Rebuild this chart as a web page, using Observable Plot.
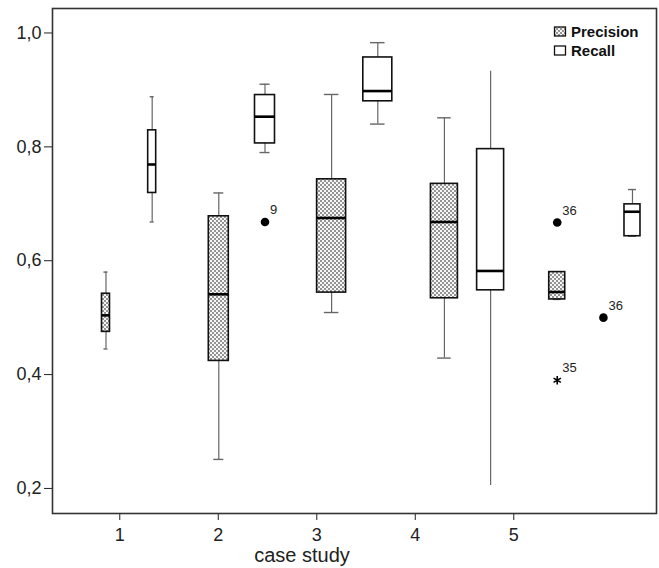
<!DOCTYPE html>
<html><head><meta charset="utf-8">
<script src="https://cdn.jsdelivr.net/npm/d3@7"></script>
<script src="https://cdn.jsdelivr.net/npm/@observablehq/plot@0.6"></script>
<style>
body{margin:0;background:#fff;}
#chart svg{display:block;}
</style></head><body><div id="chart"></div>
<script>
// ---- data ----
const caseStudies = [1, 2, 3, 4, 5];
const seriesNames = ["Precision", "Recall"];
const precisionLow    = [0.445, 0.251, 0.509, 0.429, 0.532];
const precisionQ1     = [0.475, 0.424, 0.544, 0.534, 0.532];
const precisionMedian = [0.504, 0.541, 0.675, 0.668, 0.545];
const precisionQ3     = [0.542, 0.678, 0.743, 0.735, 0.580];
const precisionHigh   = [0.580, 0.719, 0.892, 0.851, 0.580];
const recallLow    = [0.668, 0.790, 0.840, 0.205, 0.643];
const recallQ1     = [0.719, 0.806, 0.880, 0.548, 0.643];
const recallMedian = [0.769, 0.853, 0.898, 0.582, 0.686];
const recallQ3     = [0.829, 0.891, 0.957, 0.796, 0.699];
const recallHigh   = [0.888, 0.910, 0.983, 0.933, 0.725];
const outlierCase   = [2, 5, 5, 5];
const outlierSeries = ["Recall", "Precision", "Precision", "Recall"];
const outlierValue  = [0.668, 0.667, 0.390, 0.500];
const outlierLabel  = ["9", "36", "35", "36"];
const outlierKind   = ["outlier", "outlier", "extreme", "outlier"];
const yTicks = [0.2, 0.4, 0.6, 0.8, 1.0];
const xTitle = "case study";

// ---- layout ----
const W = 659, H = 568;
const M = {top: 8, right: 3, bottom: 55, left: 52};
const xDomain = [0.317, 6.449];
const yDomain = [0.156, 1.043];
const pxPerUnit = (W - M.left - M.right) / (xDomain[1] - xDomain[0]);
const firstBox = 0.860, groupStep = 1.1453, seriesGap = 0.469;
const boxWidthPx = [8, 20, 29, 27, 16];
const boxNudge = {"Recall-5": 0.295};
const noCaps = new Set(["Recall-4"]);
const font = "'Liberation Sans', Arial, Helvetica, sans-serif";

const statsBySeries = {
  Precision: [precisionLow, precisionQ1, precisionMedian, precisionQ3, precisionHigh],
  Recall: [recallLow, recallQ1, recallMedian, recallQ3, recallHigh]
};
const slot = (series, c) => firstBox + (c - 1) * groupStep + (series === "Recall" ? seriesGap : 0);

const boxes = [];
seriesNames.forEach(s => caseStudies.forEach((c, i) => {
  const [lo, q1, md, q3, hi] = statsBySeries[s];
  boxes.push({
    series: s, caseNo: c, key: s + "-" + c,
    low: lo[i], q1: q1[i], med: md[i], q3: q3[i], high: hi[i],
    cx: slot(s, c) + (boxNudge[s + "-" + c] || 0),
    hw: boxWidthPx[i] / 2 / pxPerUnit
  });
}));
const capped = boxes.filter(d => !noCaps.has(d.key));
const outliers = outlierCase.map((c, i) => ({
  caseNo: c, series: outlierSeries[i], value: outlierValue[i],
  label: outlierLabel[i], kind: outlierKind[i], cx: slot(outlierSeries[i], c)
}));

const whiskerColor = "#666";
const chart = Plot.plot({
  width: W, height: H,
  marginTop: M.top, marginRight: M.right, marginBottom: M.bottom, marginLeft: M.left,
  style: {fontFamily: font, fontSize: "18px", color: "#222", background: "#fff"},
  x: {domain: xDomain, ticks: caseStudies, tickFormat: d => String(d), tickSize: 7, tickPadding: 8, label: null},
  y: {domain: yDomain, ticks: yTicks, tickFormat: d => d.toFixed(1).replace(".", ","), tickSize: 8, tickPadding: 3, label: null},
  marks: [
    Plot.ruleX(boxes, {x: "cx", y1: "low", y2: "q1", stroke: whiskerColor, strokeWidth: 1.2}),
    Plot.ruleX(boxes, {x: "cx", y1: "q3", y2: "high", stroke: whiskerColor, strokeWidth: 1.2}),
    Plot.ruleY(capped, {y: "low", x1: d => d.cx - d.hw / 2, x2: d => d.cx + d.hw / 2, stroke: whiskerColor, strokeWidth: 1.4}),
    Plot.ruleY(capped, {y: "high", x1: d => d.cx - d.hw / 2, x2: d => d.cx + d.hw / 2, stroke: whiskerColor, strokeWidth: 1.4}),
    Plot.rect(boxes, {
      x1: d => d.cx - d.hw, x2: d => d.cx + d.hw, y1: "q1", y2: "q3",
      fill: "white", stroke: "#111", strokeWidth: 1.6,
      ariaLabel: d => d.series === "Precision" ? "precision-box" : "recall-box"
    }),
    Plot.ruleY(boxes, {y: "med", x1: d => d.cx - d.hw, x2: d => d.cx + d.hw, stroke: "#000", strokeWidth: 2.6}),
    Plot.dot(outliers.filter(d => d.kind === "outlier"), {x: "cx", y: "value", r: 4.3, fill: "#000", stroke: "none"}),
    Plot.dot(outliers.filter(d => d.kind === "extreme"), {x: "cx", y: "value", r: 4, symbol: "asterisk", stroke: "#000", strokeWidth: 1.6}),
    Plot.text(outliers, {x: "cx", y: "value", text: "label", dx: 5, dy: -12, textAnchor: "start", fontSize: 13, fill: "#222"}),
    Plot.frame({stroke: "#333", strokeWidth: 1.6})
  ]
});

// stipple pattern for Precision boxes
const svg = d3.select(chart);
const defs = svg.insert("defs", ":first-child");
const pat = defs.append("pattern").attr("id", "stipple").attr("patternUnits", "userSpaceOnUse")
  .attr("width", 4).attr("height", 4);
pat.append("rect").attr("width", 4).attr("height", 4).attr("fill", "#f6f6f6");
pat.append("circle").attr("cx", 1).attr("cy", 1).attr("r", 0.9).attr("fill", "#666");
pat.append("circle").attr("cx", 3).attr("cy", 3).attr("r", 0.9).attr("fill", "#666");
svg.selectAll('[aria-label="precision-box"]').attr("fill", "url(#stipple)");

// x axis title
svg.append("text").attr("x", 302).attr("y", 562).attr("text-anchor", "middle")
  .attr("font-size", 20).attr("fill", "#222").text(xTitle);

// legend
const leg = svg.append("g").attr("font-size", 15).attr("font-weight", "bold")
  .attr("fill", "#111").attr("text-anchor", "start");
seriesNames.forEach((s, i) => {
  const y0 = 27 + i * 19;
  leg.append("rect").attr("x", 554.5).attr("y", y0).attr("width", 11).attr("height", 9)
    .attr("fill", s === "Precision" ? "url(#stipple)" : "#fff").attr("stroke", "#111").attr("stroke-width", 1.3);
  leg.append("text").attr("x", 571).attr("y", y0 + 9.5).attr("text-anchor", "start").text(s);
});

document.getElementById("chart").appendChild(chart);
</script>
</body></html>
